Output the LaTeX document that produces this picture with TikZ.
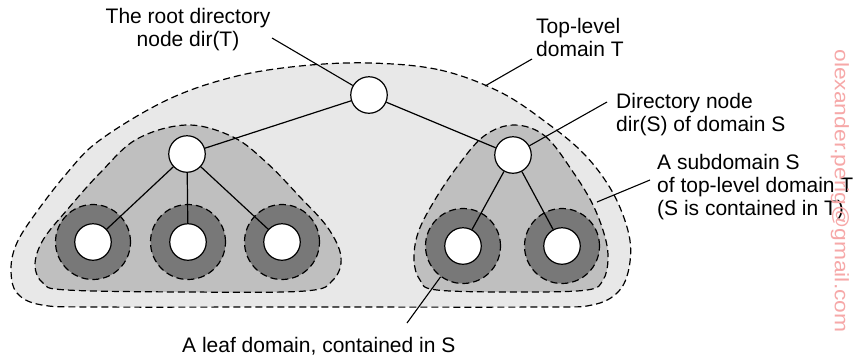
\documentclass[tikz,border=0pt]{standalone}
\usepackage{fontspec}
\setmainfont{Liberation Sans}
\definecolor{outergray}{RGB}{232,232,232}
\definecolor{subgray}{RGB}{191,191,191}
\definecolor{ringgray}{RGB}{120,120,120}
\definecolor{wmpink}{RGB}{246,168,168}
\begin{document}
\begin{tikzpicture}[x=1pt,y=-1pt,
  dom/.style={draw=black, line width=1.2pt, dash pattern=on 7pt off 4pt},
  vert/.style={circle, draw=black, fill=white, line width=1.2pt, minimum size=36.5pt, inner sep=0pt},
  leafdom/.style={circle, dom, fill=ringgray, minimum size=75pt, inner sep=0pt},
  edge/.style={draw=black, line width=1.2pt},
  lead/.style={draw=black, line width=1.1pt},
  lbl/.style={font=\fontsize{21}{23}\selectfont, inner sep=0pt}]
\useasboundingbox (0,0) rectangle (853,357);

% top-level domain T
\path[dom, fill=outergray] plot[smooth cycle, tension=0.6] coordinates {
  (370,63) (440,70) (500,92) (547,123) (585,155) (613,193) (629,235)
  (629,268) (618,292) (592,305) (540,307) (300,307) (100,307) (42,305)
  (17,293) (11,270) (16,245) (33,217) (67,173) (100,140) (167,100)
  (233,77) (300,66)};

% left subdomain
\path[dom, fill=subgray] plot[smooth cycle, tension=0.6] coordinates {
  (187,125) (233,137) (267,163) (300,197) (328,228) (341,257) (333,280)
  (305,291) (188,292) (67,290) (43,283) (35,265) (43,240) (67,210)
  (100,173) (137,139)};

% right subdomain
\path[dom, fill=subgray] plot[smooth cycle, tension=0.6] coordinates {
  (514,125) (545,136) (573,172) (593,205) (605,237) (608,260) (603,280)
  (587,290) (520,292) (437,290) (420,280) (414,260) (418,233) (433,203)
  (457,167) (484,136)};

% leaf domains
\node[leafdom] (r1) at (93,242) {};
\node[leafdom] (r2) at (188,242) {};
\node[leafdom] (r3) at (282,242) {};
\node[leafdom] (r4) at (463,246) {};
\node[leafdom] (r5) at (562,246) {};

% tree nodes
\node[vert] (root) at (369,95) {};
\node[vert] (dl) at (187,154) {};
\node[vert] (dr) at (513,155) {};
\node[vert] (l1) at (93,242) {};
\node[vert] (l2) at (188,242) {};
\node[vert] (l3) at (282,242) {};
\node[vert] (l4) at (463,246) {};
\node[vert] (l5) at (562,246) {};

\draw[edge] (root) -- (dl);
\draw[edge] (root) -- (dr);
\draw[edge] (dl) -- (l1);
\draw[edge] (dl) -- (l2);
\draw[edge] (dl) -- (l3);
\draw[edge] (dr) -- (l4);
\draw[edge] (dr) -- (l5);

% labels
\node[lbl, anchor=north, align=center] (troot) at (188,8) {The root directory\\node dir(T)};
\node[lbl, anchor=north west, align=left] (ttop) at (536,18) {Top-level\\domain T};
\node[lbl, anchor=north west, align=left] (tdir) at (616,93) {Directory node\\dir(S) of domain S};
\node[lbl, anchor=north west, align=left] (tsub) at (657,154) {A subdomain S\\of top-level domain T\\(S is contained in T)};
\node[lbl, anchor=north west] (tleaf) at (182,337) {A leaf domain, contained in S};

% leaders
\coordinate (c1) at (272,38);
\coordinate (c2a) at (532,59);
\coordinate (c2b) at (485,86);
\coordinate (c3) at (607,102);
\coordinate (c4a) at (650,180);
\coordinate (c4b) at (597,202);
\coordinate (c5) at (407,323);
\draw[lead] (c1) -- (root);
\draw[lead] (c2a) -- (c2b);
\draw[lead] (c3) -- (dr);
\draw[lead] (c4a) -- (c4b);
\draw[lead] (c5) -- (r4);

% watermark
\node[rotate=-90, inner sep=0pt, text=wmpink] (wm) at (840,191)
  {\resizebox{283pt}{\height}{\fontsize{19.5}{20}\selectfont olexander.perig@gmail.com}};
\end{tikzpicture}
\end{document}
